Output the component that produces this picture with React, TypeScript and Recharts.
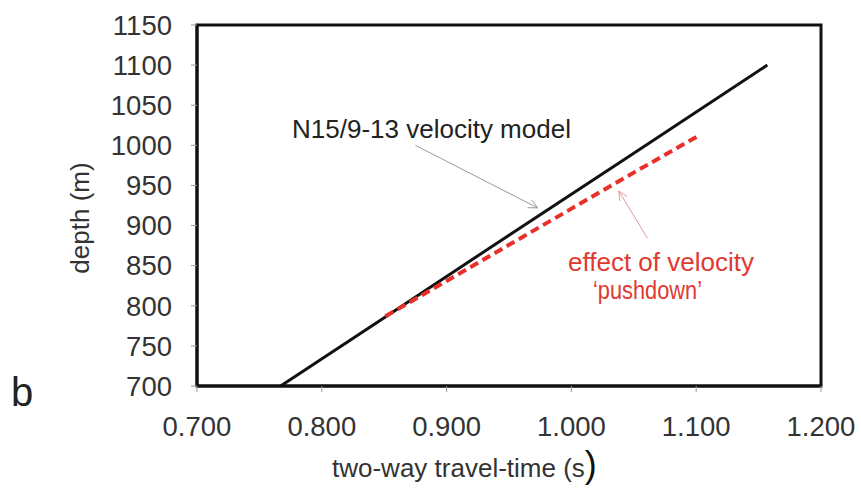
import { LineChart, Line, XAxis, YAxis, ReferenceArea, ReferenceLine } from "recharts"

// two-way travel time (s) vs depth (m)
const modelTime = [0.767, 0.85, 0.95, 1.05, 1.157]
const modelDepth = [700, 785, 888, 990, 1100]

const pushdownTime = [0.851, 0.95, 1.05, 1.103]
const pushdownDepth = [787, 876, 966, 1013]

const xTicks = [0.7, 0.8, 0.9, 1.0, 1.1, 1.2]
const yTicks = [700, 750, 800, 850, 900, 950, 1000, 1050, 1100, 1150]

// annotation arrows in data space: [tailTime, tailDepth, headTime, headDepth]
const modelArrow = [0.875, 1000, 0.973, 922]
const pushdownArrow = [1.061, 884, 1.038, 943]

const FONT = "'Liberation Sans', Arial, sans-serif"

const modelData = modelTime.map((t, i) => ({ t, depth: modelDepth[i] }))
const pushdownData = pushdownTime.map((t, i) => ({ t, depth: pushdownDepth[i] }))

const ArrowShape = (color: string) => (props: any) => {
  const { x1, y1, x2, y2 } = props
  const ang = Math.atan2(y2 - y1, x2 - x1)
  const len = 10
  const spread = 0.45
  const ax = x2 - len * Math.cos(ang - spread)
  const ay = y2 - len * Math.sin(ang - spread)
  const bx = x2 - len * Math.cos(ang + spread)
  const by = y2 - len * Math.sin(ang + spread)
  return (
    <g>
      <line x1={x1} y1={y1} x2={x2} y2={y2} stroke={color} strokeWidth={1} />
      <polyline points={`${ax},${ay} ${x2},${y2} ${bx},${by}`} fill="none" stroke={color} strokeWidth={1} />
    </g>
  )
}

export default function App() {
  return (
    <div style={{ position: "absolute", left: 0, top: 0, width: 861, height: 492, background: "#fff" }}>
      <LineChart width={861} height={492} margin={{ top: 25, right: 40, left: 97, bottom: 46 }}>
        <XAxis
          type="number"
          dataKey="t"
          domain={[0.7, 1.2]}
          ticks={xTicks}
          tickFormatter={(v: number) => v.toFixed(3)}
          height={60}
          axisLine={{ stroke: "#111", strokeWidth: 3 }}
          tickLine={{ stroke: "#999" }}
          tickSize={6}
          tickMargin={24}
          tick={{ fill: "#333", fontSize: 27.5, fontFamily: FONT }}
          allowDataOverflow
        />
        <YAxis
          type="number"
          dataKey="depth"
          domain={[700, 1150]}
          ticks={yTicks}
          width={100}
          axisLine={{ stroke: "#111", strokeWidth: 3 }}
          tickLine={{ stroke: "#999" }}
          tickSize={6}
          tickMargin={19}
          tick={{ fill: "#333", fontSize: 27.5, fontFamily: FONT }}
          allowDataOverflow
        />
        <ReferenceArea x1={0.7} x2={1.2} y1={700} y2={1150} fill="none" stroke="#111" strokeWidth={3} />
        <Line
          data={modelData}
          dataKey="depth"
          stroke="#111"
          strokeWidth={3}
          dot={false}
          isAnimationActive={false}
        />
        <Line
          data={pushdownData}
          dataKey="depth"
          stroke="#e8302a"
          strokeWidth={4}
          strokeDasharray="9 5"
          dot={false}
          isAnimationActive={false}
        />
        <ReferenceLine
          segment={[
            { x: modelArrow[0], y: modelArrow[1] },
            { x: modelArrow[2], y: modelArrow[3] },
          ]}
          shape={ArrowShape("#999")}
        />
        <ReferenceLine
          segment={[
            { x: pushdownArrow[0], y: pushdownArrow[1] },
            { x: pushdownArrow[2], y: pushdownArrow[3] },
          ]}
          shape={ArrowShape("#e59a9a")}
        />
      </LineChart>
      <svg
        width={861}
        height={492}
        style={{ position: "absolute", left: 0, top: 0, pointerEvents: "none" }}
        fontFamily={FONT}
      >
        <text x={292} y={138} fontSize={26} fill="#222">
          N15/9-13 velocity model
        </text>
        <text x={568} y={271} fontSize={26} fill="#e03a30">
          effect of velocity
        </text>
        <text x={593} y={299} fontSize={26} fill="#e03a30" textLength={109} lengthAdjust="spacingAndGlyphs">
          ‘pushdown’
        </text>
        <text x={80} y={218} fontSize={26} fill="#333" textAnchor="middle" transform="rotate(-90 80 218)" dy="0.35em">
          depth (m)
        </text>
        <text x={332} y={477} fontSize={26} fill="#333">
          two-way travel-time (s<tspan fontSize={36} fill="#111">)</tspan>
        </text>
        <text x={11} y={406} fontSize={40} fill="#222">
          b
        </text>
      </svg>
    </div>
  )
}
